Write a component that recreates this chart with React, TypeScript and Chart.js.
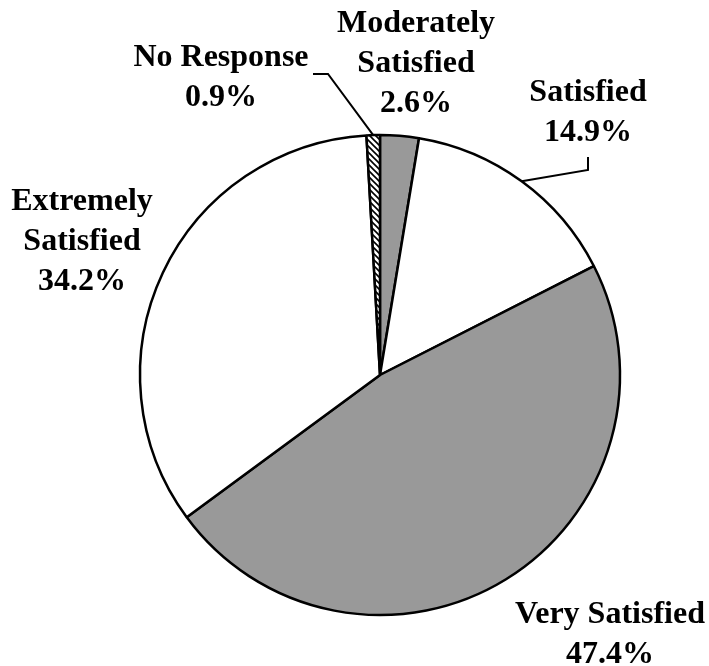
import React, { useEffect, useRef } from "react";
import { Chart, registerables } from "chart.js";

Chart.register(...registerables);

// ---- data ----
const categories = [
  "Moderately Satisfied",
  "Satisfied",
  "Very Satisfied",
  "Extremely Satisfied",
  "No Response",
];
const values = [2.6, 14.9, 47.4, 34.2, 0.9];
const labelLines = [
  ["Moderately", "Satisfied"],
  ["Satisfied"],
  ["Very Satisfied"],
  ["Extremely", "Satisfied"],
  ["No Response"],
];

// ---- layout (label anchors, leader elbows) ----
const LABEL_POS = [
  { x: 416, y: 32 },
  { x: 588, y: 101 },
  { x: 610, y: 623 },
  { x: 82, y: 210 },
  { x: 221, y: 66 },
];
const LEADERS: Record<number, { x: number; y: number }[]> = {
  1: [
    { x: 588, y: 170 },
    { x: 588, y: 157 },
  ],
  4: [
    { x: 328, y: 74 },
    { x: 313, y: 74 },
  ],
};
const LINE_HEIGHT = 40;
const FONT = "bold 32px 'Liberation Serif', 'Times New Roman', serif";
const GREY = "#999999";

function makeHatch(): CanvasPattern | string {
  const s = 6;
  const c = document.createElement("canvas");
  c.width = s;
  c.height = s;
  const g = c.getContext("2d");
  if (!g) return "#cccccc";
  g.fillStyle = "#ffffff";
  g.fillRect(0, 0, s, s);
  g.strokeStyle = "#000000";
  g.lineWidth = 1.6;
  g.beginPath();
  g.moveTo(-1, -1);
  g.lineTo(s + 1, s + 1);
  g.moveTo(-1, s - 1);
  g.lineTo(1, s + 1);
  g.moveTo(s - 1, -1);
  g.lineTo(s + 1, 1);
  g.stroke();
  return g.createPattern(c, "repeat") || "#cccccc";
}

const labelPlugin = {
  id: "sliceLabels",
  afterDraw(chart: any) {
    const ctx = chart.ctx as CanvasRenderingContext2D;
    const meta = chart.getDatasetMeta(0);
    ctx.save();
    // leader lines
    ctx.strokeStyle = "#000";
    ctx.lineWidth = 2;
    Object.keys(LEADERS).forEach((k) => {
      const i = Number(k);
      const arc = meta.data[i] as any;
      const mid = (arc.startAngle + arc.endAngle) / 2;
      const sx = arc.x + Math.cos(mid) * arc.outerRadius;
      const sy = arc.y + Math.sin(mid) * arc.outerRadius;
      ctx.beginPath();
      ctx.moveTo(sx, sy);
      LEADERS[i].forEach((p) => ctx.lineTo(p.x, p.y));
      ctx.stroke();
    });
    // texts
    ctx.fillStyle = "#000";
    ctx.font = FONT;
    ctx.textAlign = "center";
    ctx.textBaseline = "alphabetic";
    categories.forEach((_, i) => {
      const lines = [...labelLines[i], values[i].toFixed(1) + "%"];
      const p = LABEL_POS[i];
      lines.forEach((t, j) => ctx.fillText(t, p.x, p.y + j * LINE_HEIGHT));
    });
    ctx.restore();
  },
};

export default function App() {
  const ref = useRef<HTMLCanvasElement | null>(null);
  useEffect(() => {
    if (!ref.current) return;
    const hatch = makeHatch();
    const chart = new Chart(ref.current, {
      type: "pie",
      data: {
        labels: categories,
        datasets: [
          {
            data: values,
            backgroundColor: [GREY, "#ffffff", GREY, "#ffffff", hatch as any],
            borderColor: "#000000",
            borderWidth: 2.5,
          },
        ],
      },
      options: {
        responsive: false,
        animation: false,
        radius: 240,
        layout: { padding: { left: 51, right: 0, top: 84, bottom: 0 } },
        plugins: {
          legend: { display: false },
          tooltip: { enabled: false },
        },
        events: [],
      } as any,
      plugins: [labelPlugin],
    });
    return () => chart.destroy();
  }, []);
  return (
    <div style={{ position: "fixed", left: 0, top: 0, width: 709, height: 666, background: "#fff" }}>
      <canvas ref={ref} width={709} height={666} style={{ width: 709, height: 666 }} />
    </div>
  );
}
